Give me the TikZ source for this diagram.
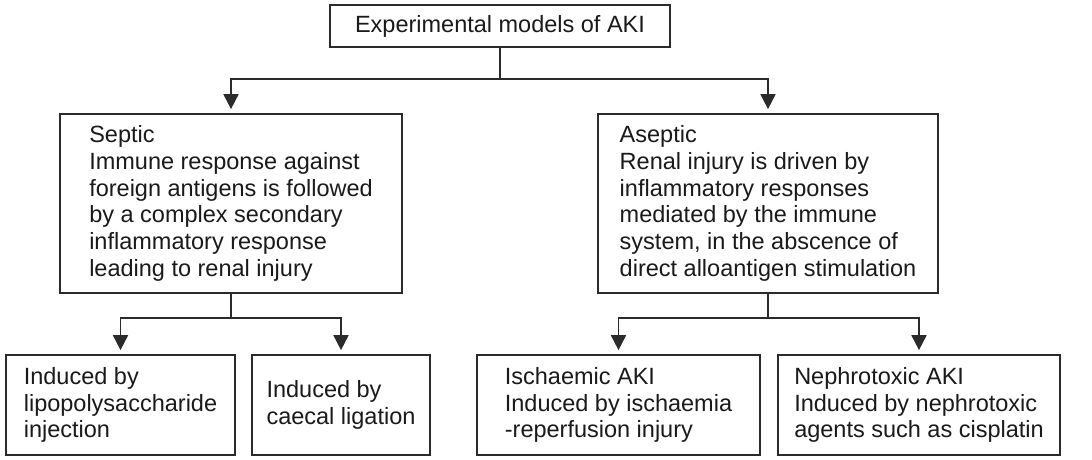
\documentclass[tikz,border=0pt]{standalone}
\usepackage{fontspec}
\setmainfont{Liberation Sans}
\usepackage{xcolor}
\definecolor{ln}{HTML}{2b2b2b}
\definecolor{tx}{HTML}{1a1a1a}
\usepackage{tikz}
\usetikzlibrary{arrows.meta,positioning,calc}

\begin{document}
\begin{tikzpicture}[
  x=1pt, y=-1pt, >={Triangle[width=15pt,length=15pt]},
  line width=1.7pt, draw=ln,
  box/.style={rectangle, draw=ln, fill=white, inner sep=0pt, align=left, text=tx,
    line width=1.7pt, font=\fontsize{23.5}{26.8}\selectfont},
  link/.style={draw=ln, line width=1.7pt},
  arr/.style={link, ->, shorten >=4pt},
]
  \useasboundingbox (0,0) rectangle (1092,459);

  % top level
  \node[box, minimum width=340pt, minimum height=42pt] (aki) at (500,26) {Experimental models of AKI};

  % second level
  \node[box, minimum width=342pt, minimum height=179pt] (sep) at (231,203.5)
    {Septic\\Immune response against\\foreign antigens is followed\\by a complex secondary\\inflammatory response\\leading to renal injury};
  \node[box, minimum width=340pt, minimum height=179pt] (asep) at (768,203.5)
    {Aseptic\\Renal injury is driven by\\inflammatory responses\\mediated by the immune\\system, in the abscence of\\direct alloantigen stimulation};

  % third level
  \node[box, minimum width=229pt, minimum height=100pt] (lps) at (120.5,405)
    {Induced by\\lipopolysaccharide\\injection};
  \node[box, minimum width=178pt, minimum height=100pt] (clp) at (341,405)
    {Induced by\\caecal ligation};
  \node[box, minimum width=283pt, minimum height=100pt] (isch) at (618.5,405)
    {Ischaemic AKI\\Induced by ischaemia\\-reperfusion injury};
  \node[box, minimum width=282pt, minimum height=100pt] (neph) at (919,405)
    {Nephrotoxic AKI\\Induced by nephrotoxic\\agents such as cisplatin};

  % connectors
  \draw[link] (aki.south) -- ++(0,31) coordinate (j0);
  \draw[arr] (j0) -| (sep.north);
  \draw[arr] (j0) -| (asep.north);

  \draw[link] (sep.south) -- ++(0,24) coordinate (j1);
  \draw[arr] (j1) -| (lps.north);
  \draw[arr] (j1) -| (clp.north);

  \draw[link] (asep.south) -- ++(0,24) coordinate (j2);
  \draw[arr] (j2) -| (isch.north);
  \draw[arr] (j2) -| (neph.north);
\end{tikzpicture}
\end{document}
